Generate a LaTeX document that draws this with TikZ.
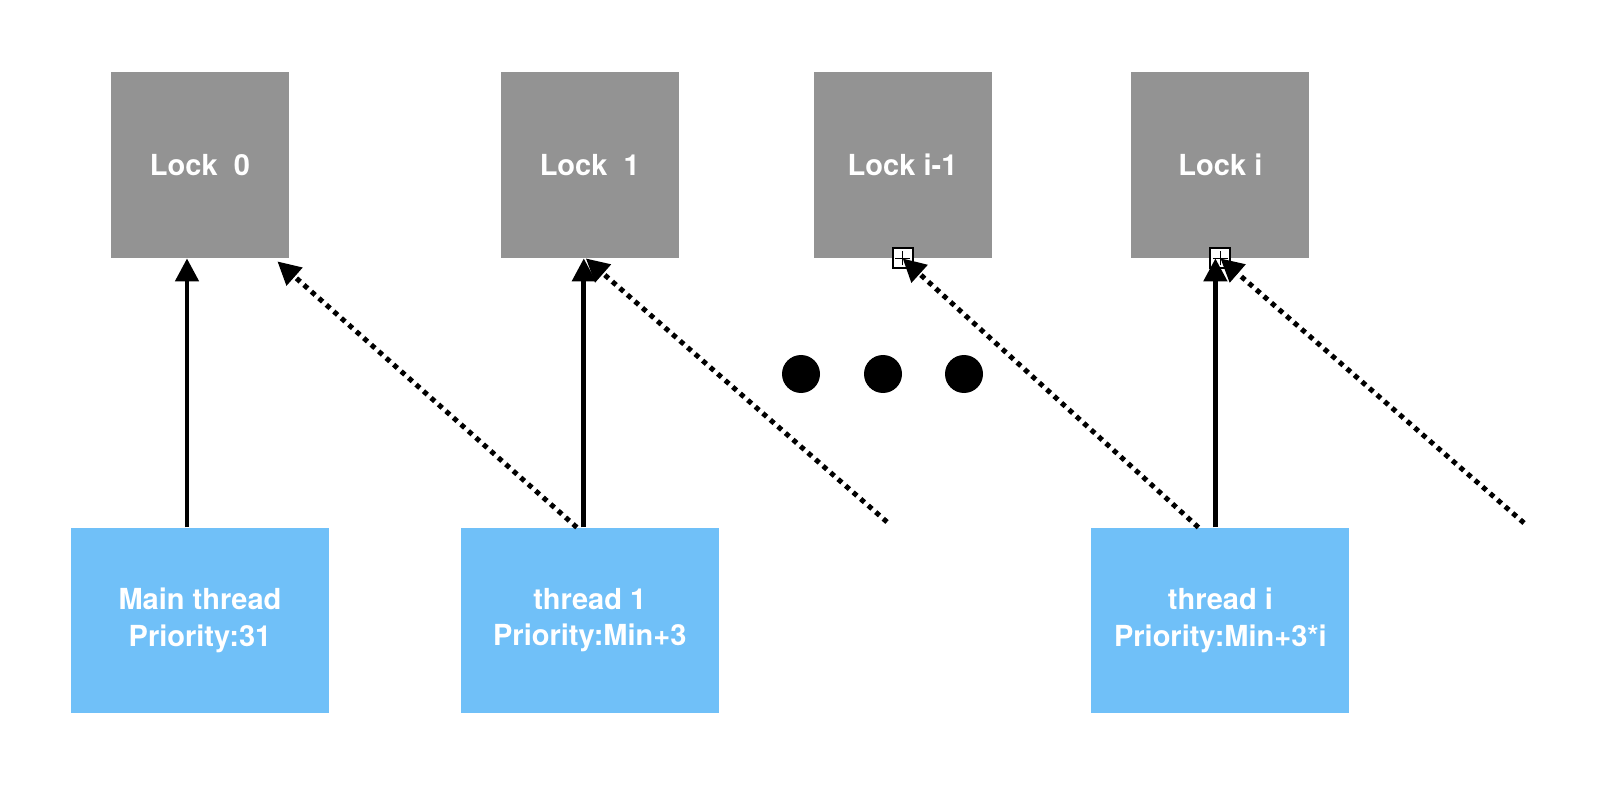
\documentclass[tikz,border=0pt]{standalone}
\usepackage{fontspec}
\setmainfont{TeX Gyre Heros}
\usetikzlibrary{arrows.meta,positioning}

\definecolor{lockgray}{RGB}{147,147,147}
\definecolor{threadblue}{RGB}{112,192,248}

\tikzset{
  boxfont/.style={text=white, font=\bfseries\fontsize{14.5}{18.3}\selectfont},
  lock/.style={fill=lockgray, minimum width=89pt, minimum height=93pt, inner sep=0pt, boxfont},
  thread/.style={fill=threadblue, minimum width=129pt, minimum height=92.5pt, inner sep=0pt, align=center, boxfont},
  holds/.style={line width=2.4pt, -{Triangle[width=11.5pt,length=11.5pt]}},
  waits/.style={line width=2.5pt, dash pattern=on 2.5pt off 2.5pt, -{Triangle[width=11.5pt,length=11.5pt]}},
  plusbox/.style={draw, fill=white, line width=1pt, minimum size=10pt, inner sep=0pt,
    path picture={
      \draw[line width=0.7pt] ([xshift=-3.8pt]path picture bounding box.center) -- ([xshift=3.8pt]path picture bounding box.center);
      \draw[line width=0.7pt] ([yshift=-3.5pt]path picture bounding box.center) -- ([yshift=3.5pt]path picture bounding box.center);
    }},
}

\begin{document}
\begin{tikzpicture}[x=0.5pt, y=-0.5pt]
  \fill[white] (0,0) rectangle (1610,796);

  % locks
  \node[lock]   (lock0) at (200,165)             {Lock\ \ 0};
  \node[lock]   (lock1) [right=105.5pt of lock0] {Lock\ \ 1};
  \node[lock]   (lockim) [right=67pt of lock1]   {Lock i-1};
  \node[lock]   (locki) [right=69.5pt of lockim] {Lock i};

  % threads
  \node[thread] (main)    [below=134.5pt of lock0] {Main thread\\Priority:31};
  \node[thread] (thread1) [below=134.5pt of lock1] {thread 1\\Priority:Min+3};
  \node[thread] (threadi) [below=134.5pt of locki] {thread i\\Priority:Min+3*i};

  \coordinate (free1) at (887,522);
  \coordinate (freei) at (1524,523);

  \node[plusbox] (plusim) at (lockim.south) {};
  \node[plusbox] (plusi)  at (locki.south)  {};

  % held locks
  \draw [holds] ([xshift=-6.5pt]main.north) -- ([xshift=-6.5pt]lock0.south);
  \draw [holds] ([xshift=-3pt]thread1.north) -- ([xshift=-3pt]lock1.south);
  \draw [holds] ([xshift=-2.5pt]threadi.north) -- ([xshift=-2.5pt]plusi.center);

  % waiting on locks
  \draw [waits] ([xshift=-6.5pt]thread1.north) -- ([xshift=-6pt,yshift=-1.5pt]lock0.south east);
  \draw [waits] (free1) -- ([xshift=-2pt]lock1.south);
  \draw [waits] ([xshift=-11pt]threadi.north) -- (plusim.center);
  \draw [waits] (freei) -- (plusi.center);

  \foreach \x in {801,883,964}
    \fill (\x,374) circle (9.5pt);
\end{tikzpicture}
\end{document}
